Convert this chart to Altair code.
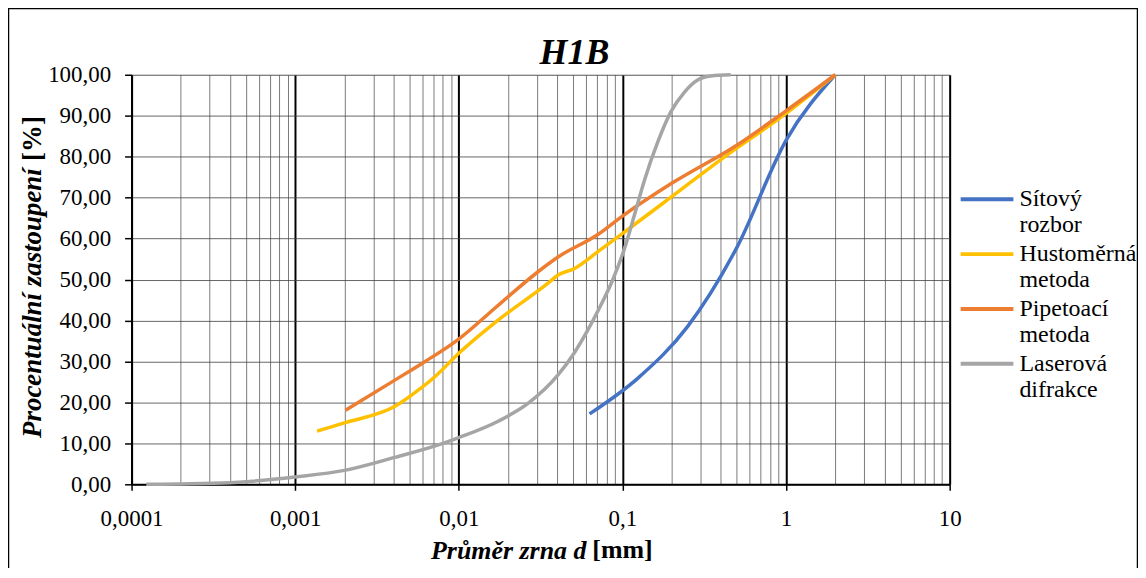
import altair as alt
import pandas as pd

# ---- data ----
series_names = ["Sítový rozbor", "Hustoměrná metoda", "Pipetoací metoda", "Laserová difrakce"]
series_colors = ["#4472C4", "#FFC000", "#ED7D31", "#A5A5A5"]

sieve_d = [0.063, 0.125, 0.25, 0.5, 1.0, 2.0]
sieve_p = [17.2, 26.0, 38.5, 57.8, 84.0, 100.0]

hydro_d = [0.00136, 0.002, 0.0041, 0.0057, 0.0072, 0.01, 0.0174, 0.0351, 0.0404, 0.051,
           0.0708, 0.103, 0.198, 0.419, 0.927, 2.0]
hydro_p = [13.0, 15.0, 19.1, 23.1, 26.4, 32.0, 40.1, 49.1, 51.1, 52.7,
           56.8, 61.6, 70.1, 79.9, 89.6, 100.0]

pip_d = [0.00203, 0.00409, 0.00623, 0.00995, 0.0166, 0.02, 0.0305, 0.0404, 0.0708,
         0.1, 0.2, 0.5, 1.0, 2.0]
pip_p = [18.1, 25.5, 30.0, 35.4, 43.0, 45.8, 51.9, 55.5, 61.0,
         65.5, 73.5, 82.8, 91.2, 100.0]

laser_d = [0.000123, 0.0002, 0.0004, 0.001, 0.002, 0.004, 0.008, 0.01, 0.0174, 0.0266,
           0.0404, 0.051, 0.0615, 0.0708, 0.0874, 0.103, 0.1185, 0.1365, 0.1645, 0.198,
           0.239, 0.288, 0.347, 0.459]
laser_p = [0.0, 0.1, 0.4, 1.8, 3.4, 6.5, 10.0, 11.4, 15.4, 19.8,
           26.7, 32.2, 37.7, 42.3, 50.0, 57.6, 65.8, 74.3, 83.6, 91.0,
           95.7, 98.7, 99.7, 100.0]

y_ticks = [0, 10, 20, 30, 40, 50, 60, 70, 80, 90, 100]
x_ticks = [round(m * 10 ** e, 6) for e in range(-4, 1) for m in range(1, 10)] + [10]

rows = []
for name, ds, ps in zip(series_names, [sieve_d, hydro_d, pip_d, laser_d],
                        [sieve_p, hydro_p, pip_p, laser_p]):
    for d, p in zip(ds, ps):
        rows.append({"serie": name, "d": d, "p": p})
df = pd.DataFrame(rows)

FONT = "Liberation Serif"
is_decade = "abs(log(datum.value)/LN10 - round(log(datum.value)/LN10)) < 0.001"

x_axis = alt.Axis(
    values=x_ticks,
    labelExpr=f"({is_decade}) ? replace(toString(datum.value), '.', ',') : ''",
    labelOverlap=False,
    labelFlush=False,
    labelFont=FONT, labelFontSize=23, labelColor="black", labelPadding=17,
    grid=True,
    gridColor={"condition": {"test": is_decade, "value": "black"}, "value": "#5a5a5a"},
    gridWidth={"condition": {"test": is_decade, "value": 2}, "value": 0.8},
    gridOpacity=1,
    ticks=True,
    tickColor={"condition": {"test": is_decade, "value": "black"}, "value": "transparent"},
    tickSize=6, tickWidth=1.5,
    domainColor="black", domainWidth=2,
    title="Průměr zrna d",
    titleFont=FONT, titleFontSize=26, titleFontWeight="bold", titleFontStyle="italic",
    titleColor="black", titleX=378, titleY=66, titleBaseline="middle", titleAlign="center",
)

y_axis = alt.Axis(
    values=y_ticks,
    labelExpr="replace(format(datum.value, '.2f'), '.', ',')",
    labelFont=FONT, labelFontSize=23, labelColor="black", labelPadding=14,
    grid=True, gridColor="#404040", gridWidth=0.8, gridOpacity=1,
    tickColor="black", tickSize=7, tickWidth=1.5,
    domainColor="black", domainWidth=2,
    title="Procentuální zastoupení",
    titleFont=FONT, titleFontSize=27, titleFontWeight="bold", titleFontStyle="italic",
    titleColor="black", titleX=-99, titleY=228.6, titleAngle=270,
    titleBaseline="middle", titleAlign="center",
)

legend = alt.Legend(
    orient="none", legendX=830, legendY=108.5, title=None,
    symbolType="stroke", symbolSize=2800, symbolStrokeWidth=4,
    labelFont=FONT, labelFontSize=24, labelColor="black",
    labelBaseline="middle", labelLimit=0, labelOffset=4,
    labelExpr="split(datum.label, ' ')",
    clipHeight=33, rowPadding=0, padding=0,
)

lines = alt.Chart(df).mark_line(strokeWidth=3.5, interpolate="monotone").encode(
    x=alt.X("d:Q", scale=alt.Scale(type="log", domain=[0.0001, 10], nice=False), axis=x_axis),
    y=alt.Y("p:Q", scale=alt.Scale(domain=[0, 100], nice=False), axis=y_axis),
    color=alt.Color("serie:N", scale=alt.Scale(domain=series_names, range=series_colors),
                    legend=legend, sort=series_names),
    order=alt.Order("d:Q"),
)

one = pd.DataFrame({"k": [0]})

# upright bold unit parts of the axis titles (the rest is bold italic)
x_unit = alt.Chart(one).mark_text(
    text="[mm]", font=FONT, fontSize=26, fontWeight="bold", align="center",
    baseline="middle", color="black"
).encode(x=alt.value(492.7), y=alt.value(477))

y_unit = alt.Chart(one).mark_text(
    text="[%]", font=FONT, fontSize=27, fontWeight="bold", align="center",
    baseline="middle", color="black", angle=270
).encode(x=alt.value(-99), y=alt.value(64))

frame = alt.Chart(one).mark_rect(
    filled=False, stroke="black", strokeWidth=1.5
).encode(
    x=alt.value(-123.5), x2=alt.value(1009.5), y=alt.value(-66.5), y2=alt.value(520)
)

chart = alt.layer(lines, x_unit, y_unit, frame).properties(
    width=821, height=411,
    title=alt.TitleParams("H1B", font=FONT, fontSize=36, fontWeight="bold",
                          fontStyle="italic", color="black", anchor="middle",
                          dx=34, dy=74, offset=10),
    padding={"left": 124, "top": 66, "right": 189, "bottom": 83},
    autosize=alt.AutoSizeParams(type="none"),
).configure_view(stroke="black", strokeWidth=1.5).configure(background="white")

chart.save("out.html", embed_options={"renderer": "svg", "actions": False})
